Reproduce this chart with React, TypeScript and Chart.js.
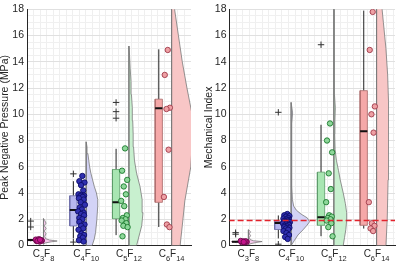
import React, { useEffect, useRef } from "react";
import { Chart, registerables } from "chart.js";

Chart.register(...registerables);

// ---------- data ----------
const categories = ["C_3F_8", "C_4F_10", "C_5F_12", "C_6F_14"];
const yTickValues = [0, 2, 4, 6, 8, 10, 12, 14, 16, 18];

// Peak negative pressure (MPa): [lower whisker, Q1, median, Q3, upper whisker]
const pnpBoxStats = [
  [0.32, 0.37, 0.42, 0.46, 0.5],
  [0.54, 1.49, 2.71, 3.79, 4.9],
  [0.79, 2.04, 3.29, 5.79, 7.37],
  [1.41, 3.29, 10.45, 11.15, 14.95],
];
const pnpOutliers = [[1.86, 1.41], [5.46, 0.26], [10.9, 10.2, 9.7], []];
const pnpPointsC3F8 = [0.3, 0.34, 0.37, 0.4, 0.42, 0.45, 0.48, 0.38, 0.35, 0.43];
const pnpPointsC4F10 = [5.3, 4.9, 4.8, 4.6, 4.2, 3.9, 3.85, 3.8, 3.75, 3.7, 3.6, 3.5, 3.3, 3.1, 2.9, 2.75, 2.6, 2.5, 2.4, 2.3, 2.1, 2.0, 1.8, 1.6, 1.5, 1.3, 1.2, 0.9, 0.8, 0.7, 0.6, 0.4, 0.3];
const pnpPointsC5F12 = [7.4, 5.7, 5.0, 4.5, 3.9, 3.4, 3.0, 2.3, 2.1, 2.0, 1.9, 1.7, 1.5, 1.4, 0.7];
const pnpPointsC6F14 = [14.9, 13.0, 10.5, 10.4, 7.3, 3.7, 1.6, 1.4];
// half-violin profiles: [value, half-width in category units]
const pnpViolinC3F8 = [[0.1, 0], [0.2, 0.05], [0.28, 0.18], [0.34, 0.32], [0.42, 0.14], [0.52, 0.05], [0.7, 0.03], [0.9, 0.06], [1.1, 0.02], [1.3, 0.06], [1.5, 0.02], [1.7, 0.06], [1.9, 0.03], [2.05, 0]];
const pnpViolinC4F10 = [[0, 0.14], [0.5, 0.19], [1, 0.22], [2, 0.25], [3, 0.27], [3.5, 0.27], [4, 0.24], [4.5, 0.19], [5, 0.15], [5.5, 0.11], [6, 0.08], [6.5, 0.06], [7, 0.04], [7.5, 0.02], [7.9, 0]];
const pnpViolinC5F12 = [[0, 0.18], [0.5, 0.22], [1, 0.26], [1.5, 0.3], [2.5, 0.33], [3.5, 0.31], [4.5, 0.26], [5.5, 0.18], [6.5, 0.13], [7.5, 0.11], [8.5, 0.1], [9.5, 0.09], [10.5, 0.08], [11.5, 0.06], [12.5, 0.05], [13.5, 0.03], [14.5, 0.015], [15.2, 0]];
const pnpViolinC6F14 = [[0, 0.2], [1.5, 0.25], [3.4, 0.31], [6, 0.45], [8.7, 0.5], [10, 0.48], [12, 0.36], [14, 0.25], [16, 0.16], [18, 0.07], [20, 0]];

// Mechanical index
const miBoxStats = [
  [0.22, 0.26, 0.29, 0.31, 0.34],
  [0.54, 1.22, 1.72, 1.84, 2.29],
  [0.71, 1.54, 2.16, 5.59, 9.2],
  [1.29, 1.54, 8.7, 11.8, 17.9],
];
const miOutliers = [[0.98, 0.86], [10.15, 0.1], [15.3], []];
const miPointsC3F8 = [0.22, 0.26, 0.28, 0.3, 0.32, 0.35, 0.27];
const miPointsC4F10 = [2.4, 2.3, 2.25, 2.2, 2.1, 2.05, 2.0, 1.95, 1.9, 1.9, 1.85, 1.82, 1.8, 1.78, 1.75, 1.7, 1.68, 1.65, 1.6, 1.55, 1.5, 1.45, 1.4, 1.35, 1.3, 1.2, 1.1, 0.95, 0.8, 0.65, 0.5];
const miPointsC5F12 = [9.3, 8.0, 7.1, 5.5, 4.3, 3.3, 2.3, 2.2, 2.1, 2.0, 1.9, 1.7, 1.4, 0.7];
const miPointsC6F14 = [17.8, 14.9, 10.6, 10.0, 8.6, 3.3, 1.7, 1.5, 1.3, 1.1];
const miViolinC3F8 = [[0.05, 0], [0.15, 0.06], [0.24, 0.2], [0.3, 0.32], [0.36, 0.12], [0.45, 0.04], [0.6, 0.02], [0.75, 0.05], [0.9, 0.02], [1.05, 0.05], [1.2, 0]];
const miViolinC4F10 = [[0, 0.02], [0.4, 0.08], [0.8, 0.16], [1.2, 0.28], [1.5, 0.36], [1.8, 0.43], [2.1, 0.38], [2.4, 0.23], [2.7, 0.12], [3, 0.06], [3.5, 0.03], [4.5, 0.015], [9.3, 0.015], [10.1, 0.035], [10.9, 0]];
const miViolinC5F12 = [[0, 0.22], [0.6, 0.25], [1.2, 0.28], [1.9, 0.3], [2.5, 0.3], [3.2, 0.27], [4, 0.22], [5, 0.15], [5.7, 0.11], [6.5, 0.06], [7.3, 0.03], [8.5, 0.02], [9.5, 0.025], [10.5, 0.035], [11.5, 0.015], [14, 0.01], [15.3, 0.02], [16.5, 0.01], [19, 0.005]];
const miViolinC6F14 = [[0, 0.22], [2, 0.25], [5, 0.27], [8, 0.28], [11, 0.28], [13, 0.26], [15, 0.22], [17, 0.16], [18, 0.13], [20, 0.08]];
const miThreshold = 1.9;

// ---------- styling ----------
const jitter = [0.02, -0.05, 0.07, -0.01, 0.04, -0.07, 0.0, 0.06, -0.03, 0.03, -0.06, 0.05, -0.02, 0.08, -0.04, 0.01, -0.08, 0.05, -0.01, 0.06, -0.05];
const catStyles = [
  { violin: "#f6c9ec", box: "#e6a6d6", boxEdge: "#8a4a7a", point: "#c4148c", pointEdge: "#6a0a4a" },
  { violin: "#d3d3f6", box: "#b6b6ee", boxEdge: "#6a6aa6", point: "#3030b0", pointEdge: "#0c0c6a" },
  { violin: "#c8f0cf", box: "#a8e6b2", boxEdge: "#5c9c68", point: "#8ed79a", pointEdge: "#1b7a2e" },
  { violin: "#f8c6c6", box: "#f5a8a8", boxEdge: "#a86868", point: "#eea0a4", pointEdge: "#a03a4a" },
];
const TEXT = "#262626";
const FONT = '"Liberation Sans", Arial, Helvetica, sans-serif';
const POINT_OFF = -0.11;
const BOX_OFF = -0.3;
const BOX_HW = 0.085;

function parseLabel(s: string) {
  const parts: { t: string; sub: boolean }[] = [];
  let i = 0;
  while (i < s.length) {
    if (s[i] === "_") {
      let j = i + 1;
      while (j < s.length && /\d/.test(s[j])) j++;
      parts.push({ t: s.slice(i + 1, j), sub: true });
      i = j;
    } else {
      parts.push({ t: s[i], sub: false });
      i++;
    }
  }
  return parts;
}

const catLabelPlugin = {
  id: "catLabels",
  afterDraw(chart: any) {
    const { ctx, chartArea } = chart;
    const xs = chart.scales.x;
    const mainFont = `10px ${FONT}`;
    const subFont = `7.5px ${FONT}`;
    ctx.save();
    ctx.fillStyle = TEXT;
    ctx.textBaseline = "alphabetic";
    ctx.textAlign = "left";
    categories.forEach((c, i) => {
      const parts = parseLabel(c);
      let total = 0;
      const widths = parts.map((p) => {
        ctx.font = p.sub ? subFont : mainFont;
        const w = ctx.measureText(p.t).width;
        total += w;
        return w;
      });
      let x = xs.getPixelForValue(i + 1) - total / 2;
      const base = chartArea.bottom + 11.5;
      parts.forEach((p, k) => {
        ctx.font = p.sub ? subFont : mainFont;
        ctx.fillText(p.t, x, p.sub ? base + 3.5 : base);
        x += widths[k];
      });
    });
    ctx.restore();
  },
};

function buildDatasets(boxes: number[][], outliers: number[][], points: number[][], violins: number[][][], threshold: number | null) {
  const ds: any[] = [];
  if (threshold !== null) {
    ds.push({
      type: "line",
      data: [{ x: -10, y: threshold }, { x: 10, y: threshold }],
      borderColor: "#e3232c",
      borderWidth: 1.5,
      borderDash: [6, 3],
      pointRadius: 0,
      fill: false,
    });
  }
  points.forEach((vals, i) => {
    const st = catStyles[i];
    ds.push({
      type: "scatter",
      data: vals.map((y, j) => ({ x: i + 1 + POINT_OFF + jitter[j % jitter.length], y })),
      backgroundColor: st.point,
      borderColor: st.pointEdge,
      borderWidth: 0.9,
      pointRadius: 2.7,
      pointStyle: "circle",
    });
  });
  outliers.forEach((vals, i) => {
    const c = i + 1 + BOX_OFF;
    ds.push({
      type: "scatter",
      data: vals.map((y) => ({ x: c, y })),
      borderColor: "#333333",
      backgroundColor: "#333333",
      borderWidth: 1,
      pointRadius: 3.2,
      pointStyle: "cross",
    });
  });
  boxes.forEach((b, i) => {
    const c = i + 1 + BOX_OFF;
    ds.push({
      type: "line",
      data: [{ x: c - BOX_HW, y: b[2] }, { x: c + BOX_HW, y: b[2] }],
      borderColor: "#111111",
      borderWidth: 2,
      pointRadius: 0,
      fill: false,
    });
  });
  boxes.forEach((b, i) => {
    const st = catStyles[i];
    const c = i + 1 + BOX_OFF;
    ds.push({
      type: "line",
      data: [
        { x: c - BOX_HW, y: b[1] },
        { x: c + BOX_HW, y: b[1] },
        { x: c + BOX_HW, y: b[3] },
        { x: c - BOX_HW, y: b[3] },
        { x: c - BOX_HW, y: b[1] },
      ],
      borderColor: st.boxEdge,
      backgroundColor: st.box,
      borderWidth: 0.8,
      pointRadius: 0,
      fill: "shape",
    });
  });
  boxes.forEach((b, i) => {
    const c = i + 1 + BOX_OFF;
    ds.push({
      type: "line",
      data: [{ x: c, y: b[0] }, { x: c, y: b[1] }],
      borderColor: "#222222",
      borderWidth: 1,
      pointRadius: 0,
      fill: false,
    });
    ds.push({
      type: "line",
      data: [{ x: c, y: b[3] }, { x: c, y: b[4] }],
      borderColor: "#222222",
      borderWidth: 1,
      pointRadius: 0,
      fill: false,
    });
  });
  violins.forEach((prof, i) => {
    const st = catStyles[i];
    const k = i + 1;
    const y0 = prof[0][0];
    const y1 = prof[prof.length - 1][0];
    const data = [{ x: k, y: y0 }, ...prof.map(([y, w]) => ({ x: k + w, y })), { x: k, y: y1 }, { x: k, y: y0 }];
    ds.push({
      type: "line",
      data,
      borderColor: "#7a7a7a",
      backgroundColor: st.violin,
      borderWidth: 0.8,
      pointRadius: 0,
      fill: "shape",
    });
  });
  return ds;
}

function makeConfig(opts: any) {
  const { datasets, title, xMin, xMax, yWidth } = opts;
  const gridStep = 0.1534;
  const xGrid: number[] = [];
  for (let v = xMin; v < xMax - 0.01; v += gridStep) xGrid.push(v);
  const yGrid: number[] = [];
  for (let v = 0; v <= 18.001; v += 0.5) yGrid.push(Math.round(v * 2) / 2);
  const isMajor = (v: number) => yTickValues.includes(v);
  return {
    type: "scatter",
    data: { datasets },
    options: {
      animation: false,
      responsive: false,
      maintainAspectRatio: false,
      events: [],
      layout: { padding: { top: 5, right: 0, left: 0, bottom: 0 } },
      plugins: { legend: { display: false }, tooltip: { enabled: false } },
      scales: {
        x: {
          type: "linear",
          min: xMin,
          max: xMax,
          afterBuildTicks: (s: any) => {
            s.ticks = xGrid.map((v) => ({ value: v }));
          },
          ticks: { display: false },
          grid: { color: "#efefef", lineWidth: 1, drawTicks: false },
          border: { display: true, color: TEXT, width: 1 },
          afterFit: (s: any) => {
            s.height = 17.5;
          },
        },
        y: {
          type: "linear",
          min: 0,
          max: 18,
          afterBuildTicks: (s: any) => {
            s.ticks = yGrid.map((v) => ({ value: v }));
          },
          ticks: {
            autoSkip: false,
            padding: 3,
            color: TEXT,
            font: { family: FONT, size: 10.5 },
            callback: (v: number) => (isMajor(v) ? String(v) : ""),
          },
          grid: {
            drawTicks: false,
            lineWidth: 1,
            color: (ctx: any) => (ctx.tick && isMajor(ctx.tick.value) ? "#e0e0e0" : "#f0f0f0"),
          },
          border: { display: true, color: TEXT, width: 1 },
          title: {
            display: true,
            text: title,
            color: TEXT,
            font: { family: FONT, size: 10.5, lineHeight: 1 },
            padding: 0,
          },
          afterFit: (s: any) => {
            s.width = yWidth;
          },
        },
      },
    },
    plugins: [catLabelPlugin],
  };
}

export default function App() {
  const leftRef = useRef<HTMLCanvasElement>(null);
  const rightRef = useRef<HTMLCanvasElement>(null);
  useEffect(() => {
    const left = new Chart(
      leftRef.current as HTMLCanvasElement,
      makeConfig({
        title: "Peak Negative Pressure (MPa)",
        xMin: 0.6136,
        xMax: 4.4545,
        yWidth: 27,
        datasets: buildDatasets(
          pnpBoxStats,
          pnpOutliers,
          [pnpPointsC3F8, pnpPointsC4F10, pnpPointsC5F12, pnpPointsC6F14],
          [pnpViolinC3F8, pnpViolinC4F10, pnpViolinC5F12, pnpViolinC6F14],
          null
        ),
      }) as any
    );
    const right = new Chart(
      rightRef.current as HTMLCanvasElement,
      makeConfig({
        title: "Mechanical Index",
        xMin: 0.557,
        xMax: 4.432,
        yWidth: 25.5,
        datasets: buildDatasets(
          miBoxStats,
          miOutliers,
          [miPointsC3F8, miPointsC4F10, miPointsC5F12, miPointsC6F14],
          [miViolinC3F8, miViolinC4F10, miViolinC5F12, miViolinC6F14],
          miThreshold
        ),
      }) as any
    );
    return () => {
      left.destroy();
      right.destroy();
    };
  }, []);
  return (
    <div style={{ position: "fixed", left: 0, top: 0, width: 400, height: 263, background: "#ffffff" }}>
      <canvas ref={leftRef} width={196} height={263} style={{ position: "absolute", left: 0, top: 0, width: 196, height: 263 }} />
      <canvas ref={rightRef} width={196} height={263} style={{ position: "absolute", left: 204, top: 0, width: 196, height: 263 }} />
    </div>
  );
}
